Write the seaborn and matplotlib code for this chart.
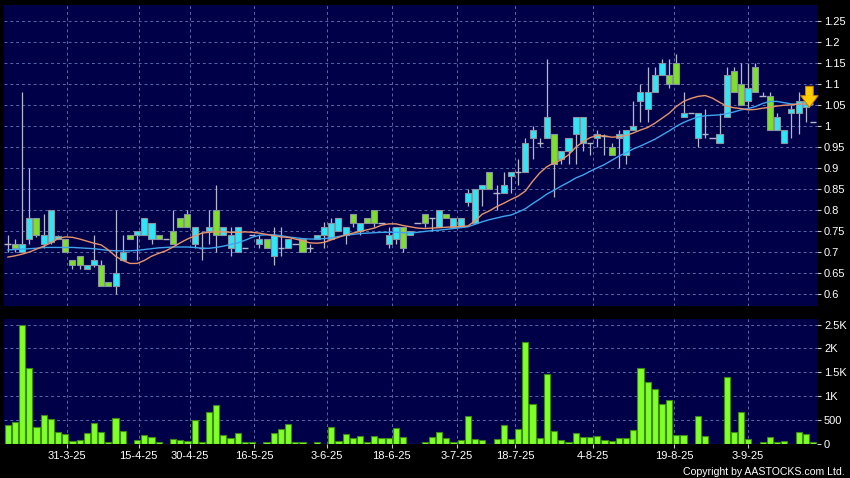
import matplotlib
matplotlib.use("Agg")
import matplotlib.pyplot as plt
import numpy as np
import seaborn as sns

opens = [0.72, 0.72, 0.70, 0.73, 0.78, 0.72, 0.725, 0.731, 0.73, 0.68,
         0.69, 0.66, 0.67, 0.67, 0.63, 0.62, 0.68, 0.74, 0.74, 0.74,
         0.73, 0.74, 0.73, 0.75, 0.78, 0.79, 0.72, 0.71, 0.75, 0.80,
         0.74, 0.71, 0.70, 0.71, 0.74, 0.72, 0.73, 0.69, 0.71, 0.71,
         0.72, 0.73, 0.71, 0.731, 0.74, 0.73, 0.75, 0.74, 0.79, 0.75,
         0.78, 0.80, 0.77, 0.72, 0.73, 0.76, 0.74, 0.77, 0.79, 0.78,
         0.76, 0.79, 0.76, 0.76, 0.82, 0.77, 0.85, 0.89, 0.84, 0.84,
         0.88, 0.89, 0.89, 0.97, 0.96, 0.97, 0.98, 0.92, 0.94, 0.98,
         0.96, 0.96, 0.97, 0.975, 0.95, 0.97, 0.93, 0.99, 1.06, 1.04,
         1.08, 1.12, 1.12, 1.15, 1.02, 1.03, 0.97, 0.98, 0.97, 0.96,
         1.02, 1.13, 1.10, 1.06, 1.14, 1.07, 1.07, 0.99, 0.96, 1.03,
         1.03, 1.045, 1.01]
highs = [0.74, 0.73, 1.08, 0.90, 0.78, 0.79, 0.80, 0.74, 0.73, 0.68,
         0.69, 0.669, 0.74, 0.68, 0.63, 0.80, 0.74, 0.74, 0.75, 0.78,
         0.77, 0.74, 0.73, 0.80, 0.78, 0.80, 0.76, 0.75, 0.80, 0.86,
         0.76, 0.76, 0.76, 0.71, 0.74, 0.74, 0.73, 0.76, 0.76, 0.73,
         0.72, 0.73, 0.72, 0.74, 0.771, 0.78, 0.78, 0.76, 0.79, 0.77,
         0.78, 0.80, 0.77, 0.76, 0.76, 0.76, 0.75, 0.77, 0.79, 0.78,
         0.80, 0.79, 0.78, 0.78, 0.85, 0.85, 0.86, 0.89, 0.86, 0.89,
         0.89, 0.92, 0.97, 1.00, 0.97, 1.16, 0.98, 0.94, 0.97, 1.02,
         1.02, 0.96, 0.99, 0.98, 0.96, 0.99, 0.99, 1.06, 1.10, 1.14,
         1.14, 1.16, 1.16, 1.17, 1.08, 1.03, 1.03, 1.04, 0.97, 1.03,
         1.14, 1.14, 1.15, 1.15, 1.15, 1.08, 1.08, 1.03, 0.99, 1.05,
         1.08, 1.06, 1.01]
lows = [0.70, 0.70, 0.70, 0.72, 0.735, 0.71, 0.72, 0.73, 0.70, 0.66,
        0.66, 0.66, 0.665, 0.62, 0.62, 0.60, 0.68, 0.73, 0.68, 0.74,
        0.72, 0.73, 0.73, 0.72, 0.76, 0.76, 0.71, 0.68, 0.72, 0.70,
        0.74, 0.69, 0.70, 0.71, 0.74, 0.71, 0.71, 0.67, 0.69, 0.71,
        0.72, 0.70, 0.70, 0.731, 0.71, 0.73, 0.75, 0.72, 0.76, 0.74,
        0.77, 0.76, 0.77, 0.71, 0.72, 0.70, 0.74, 0.77, 0.76, 0.75,
        0.76, 0.78, 0.76, 0.76, 0.81, 0.77, 0.81, 0.85, 0.80, 0.84,
        0.84, 0.86, 0.89, 0.92, 0.95, 0.97, 0.83, 0.91, 0.91, 0.91,
        0.94, 0.93, 0.95, 0.93, 0.93, 0.90, 0.91, 0.99, 1.01, 1.01,
        1.08, 1.12, 1.09, 1.10, 1.02, 1.03, 0.95, 0.97, 0.97, 0.96,
        1.02, 1.08, 1.05, 1.04, 1.08, 1.07, 0.99, 0.99, 0.96, 0.97,
        0.98, 1.01, 1.01]
closes = [0.72, 0.71, 0.72, 0.78, 0.74, 0.74, 0.80, 0.739, 0.70, 0.67,
          0.67, 0.669, 0.68, 0.62, 0.62, 0.65, 0.70, 0.73, 0.75, 0.78,
          0.77, 0.73, 0.73, 0.72, 0.76, 0.76, 0.76, 0.71, 0.76, 0.74,
          0.76, 0.74, 0.76, 0.71, 0.74, 0.73, 0.71, 0.74, 0.71, 0.73,
          0.72, 0.70, 0.71, 0.74, 0.76, 0.77, 0.78, 0.76, 0.77, 0.77,
          0.77, 0.77, 0.77, 0.74, 0.76, 0.71, 0.75, 0.77, 0.77, 0.78,
          0.80, 0.78, 0.78, 0.78, 0.84, 0.85, 0.86, 0.85, 0.84, 0.86,
          0.89, 0.89, 0.96, 0.99, 0.96, 1.02, 0.91, 0.94, 0.97, 1.02,
          1.02, 0.96, 0.98, 0.975, 0.93, 0.98, 0.99, 1.00, 1.08, 1.08,
          1.12, 1.15, 1.10, 1.10, 1.03, 1.03, 1.03, 0.98, 0.97, 0.98,
          1.12, 1.08, 1.05, 1.09, 1.08, 1.07, 0.99, 1.02, 0.99, 1.04,
          1.06, 1.06, 1.01]
volumes = [392, 462, 2493, 1590, 350, 602, 518, 252, 196, 56,
           77, 224, 441, 252, 28, 532, 273, 0, 77, 182,
           140, 28, 0, 91, 77, 56, 504, 28, 658, 805,
           189, 126, 224, 28, 28, 0, 28, 231, 301, 420,
           28, 28, 0, 35, 0, 350, 56, 203, 126, 161,
           42, 154, 112, 112, 329, 147, 0, 0, 28, 140,
           245, 112, 28, 70, 581, 98, 70, 0, 98, 385,
           98, 301, 2143, 826, 126, 1470, 273, 70, 28, 217,
           140, 140, 168, 77, 56, 119, 119, 280, 1590, 1295,
           1155, 826, 910, 182, 182, 0, 581, 168, 0, 0,
           1400, 238, 658, 98, 0, 28, 147, 28, 49, 0,
           252, 196, 28]
ma_short = [0.688, 0.691, 0.695, 0.700, 0.707, 0.714, 0.722, 0.732, 0.736, 0.735,
            0.731, 0.726, 0.721, 0.717, 0.705, 0.690, 0.680, 0.673, 0.673, 0.680,
            0.690, 0.697, 0.703, 0.712, 0.722, 0.731, 0.738, 0.745, 0.747, 0.748,
            0.748, 0.747, 0.747, 0.748, 0.747, 0.745, 0.742, 0.739, 0.736, 0.735,
            0.731, 0.727, 0.722, 0.721, 0.723, 0.729, 0.735, 0.741, 0.745, 0.749,
            0.753, 0.757, 0.764, 0.767, 0.767, 0.763, 0.760, 0.757, 0.756, 0.757,
            0.758, 0.759, 0.760, 0.761, 0.762, 0.774, 0.790, 0.798, 0.808, 0.816,
            0.825, 0.833, 0.845, 0.868, 0.888, 0.903, 0.912, 0.919, 0.931, 0.949,
            0.962, 0.972, 0.977, 0.976, 0.973, 0.974, 0.977, 0.983, 0.990, 0.996,
            1.006, 1.018, 1.030, 1.046, 1.058, 1.065, 1.070, 1.072, 1.066, 1.056,
            1.047, 1.043, 1.041, 1.038, 1.039, 1.042, 1.044, 1.047, 1.049, 1.050,
            1.052, 1.052, 1.052]
ma_long = [0.705, 0.706, 0.707, 0.708, 0.709, 0.711, 0.711, 0.711, 0.711, 0.711,
           0.710, 0.709, 0.708, 0.706, 0.704, 0.703, 0.703, 0.703, 0.704, 0.706,
           0.708, 0.710, 0.711, 0.712, 0.712, 0.712, 0.711, 0.709, 0.709, 0.711,
           0.714, 0.718, 0.722, 0.728, 0.735, 0.740, 0.741, 0.741, 0.739, 0.736,
           0.734, 0.732, 0.731, 0.731, 0.732, 0.734, 0.737, 0.740, 0.742, 0.744,
           0.745, 0.746, 0.747, 0.747, 0.747, 0.746, 0.745, 0.747, 0.749, 0.751,
           0.752, 0.754, 0.756, 0.758, 0.760, 0.766, 0.772, 0.777, 0.781, 0.785,
           0.788, 0.795, 0.803, 0.815, 0.826, 0.838, 0.847, 0.857, 0.866, 0.876,
           0.883, 0.892, 0.900, 0.908, 0.918, 0.928, 0.936, 0.945, 0.952, 0.960,
           0.968, 0.978, 0.988, 0.999, 1.008, 1.015, 1.021, 1.024, 1.025, 1.026,
           1.029, 1.033, 1.038, 1.041, 1.046, 1.053, 1.058, 1.058, 1.055, 1.052,
           1.051, 1.050, 1.050]
date_tick_pos = [8.2, 18.2, 25.3, 34.3, 44.4, 53.4, 62.5, 70.6, 81.4, 92.7, 102.9]
date_tick_labels = ["31-3-25", "15-4-25", "30-4-25", "16-5-25", "3-6-25", "18-6-25",
                    "3-7-25", "18-7-25", "4-8-25", "19-8-25", "3-9-25"]
price_ticks = [0.6, 0.65, 0.7, 0.75, 0.8, 0.85, 0.9, 0.95, 1.0, 1.05, 1.1, 1.15, 1.2, 1.25]
price_tick_labels = ["0.6", "0.65", "0.7", "0.75", "0.8", "0.85", "0.9", "0.95", "1",
                     "1.05", "1.1", "1.15", "1.2", "1.25"]
vol_ticks = [0, 500, 1000, 1500, 2000, 2500]
vol_tick_labels = ["0", "500", "1K", "1.5K", "2K", "2.5K"]
arrow_bar = 111.5

sns.set_theme(style="dark")
plt.rcParams["font.family"] = ["Liberation Sans", "DejaVu Sans"]

NAVY = "#000048"
CYAN = "#30E6F6"
GREEN = "#7EDF2C"
VOLG = "#80FF28"
GRID = "#5868A8"

W, H = 850, 478
fig = plt.figure(figsize=(W / 100, H / 100), dpi=100, facecolor="black")
ax = fig.add_axes([4 / W, 1 - 306 / H, 813 / W, 301 / H])
axv = fig.add_axes([4 / W, 1 - 444.3 / H, 813 / W, 125 / H])

o = np.array(opens); h = np.array(highs); l = np.array(lows); c = np.array(closes)
idx = np.arange(len(o))
up = c > o
dn = c < o
dj = c == o

for a in (ax, axv):
    a.set_facecolor(NAVY)
    for s in a.spines.values():
        s.set_visible(False)
    a.grid(False)

# grid lines
for xp in date_tick_pos:
    ax.axvline(xp, color=GRID, lw=0.7, ls=(0, (3, 3)), zorder=1)
    axv.axvline(xp, color=GRID, lw=0.7, ls=(0, (3, 3)), zorder=1)
for yp in price_ticks:
    ax.axhline(yp, color=GRID, lw=0.7, ls=(0, (3, 3)), zorder=1)
for yp in vol_ticks[1:]:
    axv.axhline(yp, color=GRID, lw=0.7, ls=(0, (3, 3)), zorder=1)

# candles
ax.vlines(idx, l, h, color="#B4B8C8", lw=0.9, zorder=2)
ax.bar(idx[up], (c - o)[up], bottom=o[up], width=0.84, color=CYAN,
       edgecolor="#8A94A0", linewidth=0.8, zorder=3)
ax.bar(idx[dn], (o - c)[dn], bottom=c[dn], width=0.84, color=GREEN,
       edgecolor="#8A94A0", linewidth=0.8, zorder=3)
ax.hlines(c[dj], idx[dj] - 0.45, idx[dj] + 0.45, color="#B4B8C8", lw=1.0, zorder=3)

sns.lineplot(x=idx, y=ma_long, ax=ax, color="#3FA4EE", lw=1.0, zorder=4)
sns.lineplot(x=idx, y=ma_short, ax=ax, color="#E8946A", lw=1.0, zorder=4)

ax.annotate("", xy=(arrow_bar, 1.044), xytext=(arrow_bar, 1.094),
            arrowprops=dict(arrowstyle="simple,head_length=0.6,head_width=0.9,tail_width=0.4",
                            facecolor="#FFCC00", edgecolor="#C88000", lw=0.7,
                            mutation_scale=14, shrinkA=0, shrinkB=0),
            zorder=6)

# volume
sns.barplot(x=idx, y=volumes, ax=axv, color=VOLG, saturation=1, width=0.86,
            edgecolor="#3C8A14", linewidth=0.8, zorder=3)

xl = (-0.515, 112.56)
ax.set_xlim(*xl)
axv.set_xlim(*xl)
ax.set_ylim(0.5718, 1.2872)
axv.set_ylim(-13, 2613)

ax.yaxis.tick_right()
ax.set_yticks(price_ticks)
ax.set_yticklabels(price_tick_labels)
ax.set_xticks(date_tick_pos)
ax.set_xticklabels([])
ax.tick_params(axis="x", length=0)
ax.tick_params(axis="y", colors="#C8C8C8", labelcolor="white", labelsize=8,
               length=3, width=0.8, pad=2, right=True, left=False)
ax.set_xlabel(""); ax.set_ylabel("")

axv.yaxis.tick_right()
axv.set_yticks(vol_ticks)
axv.set_yticklabels(vol_tick_labels)
axv.set_xticks(date_tick_pos)
axv.set_xticklabels(date_tick_labels)
axv.tick_params(axis="x", colors="#C8C8C8", labelcolor="white", labelsize=8,
                length=3, width=0.8, pad=2, bottom=True)
axv.tick_params(axis="y", colors="#C8C8C8", labelcolor="white", labelsize=8,
                length=3, width=0.8, pad=2, right=True, left=False)
axv.set_xlabel(""); axv.set_ylabel("")

fig.text(845 / W, 1 - 472 / H, "Copyright by AASTOCKS.com Ltd.", ha="right", va="center",
         color="white", fontsize=7.6)

fig.savefig("out.png", dpi=100, facecolor="black")
